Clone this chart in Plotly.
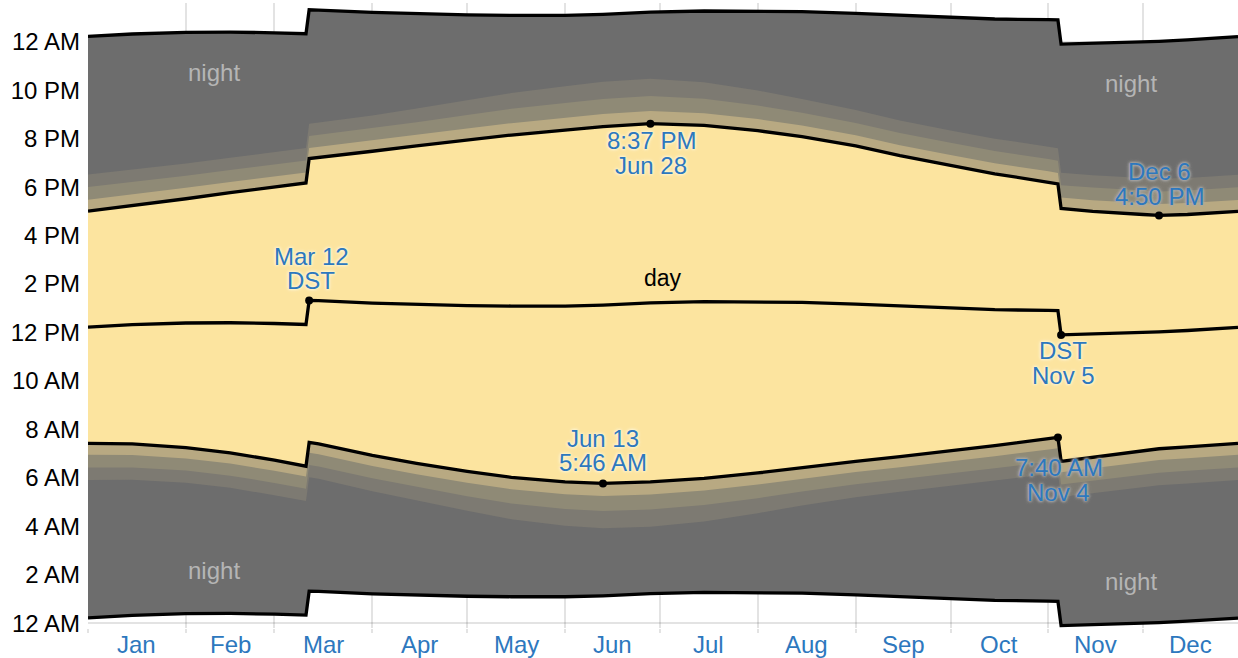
import plotly.graph_objects as go

# ---- data (local clock time, hours) ----
dates = ["2023-01-01", "2023-01-15", "2023-02-01", "2023-02-15", "2023-03-01",
         "2023-03-11", "2023-03-12", "2023-03-15", "2023-04-01", "2023-04-15",
         "2023-05-01", "2023-05-15", "2023-06-01", "2023-06-13", "2023-06-28",
         "2023-07-15", "2023-08-01", "2023-08-15", "2023-09-01", "2023-09-15",
         "2023-10-01", "2023-10-15", "2023-11-01", "2023-11-04", "2023-11-05",
         "2023-11-15", "2023-12-01", "2023-12-06", "2023-12-15", "2023-12-31"]

sunrise = [7.42, 7.40, 7.25, 7.03, 6.73, 6.48, 7.46, 7.40, 6.93, 6.60,
           6.27, 6.02, 5.83, 5.767, 5.83, 5.98, 6.20, 6.42, 6.68, 6.87,
           7.10, 7.33, 7.62, 7.667, 6.68, 6.85, 7.10, 7.20, 7.28, 7.42]
sunset = [17.01, 17.23, 17.52, 17.77, 18.00, 18.17, 19.18, 19.23, 19.48, 19.70,
          19.95, 20.15, 20.35, 20.50, 20.617, 20.55, 20.33, 20.08, 19.70, 19.30,
          18.90, 18.55, 18.20, 18.13, 17.12, 17.00, 16.87, 16.833, 16.87, 17.00]
solar_noon = [12.22, 12.32, 12.39, 12.40, 12.37, 12.33, 13.32, 13.31, 13.21, 13.15,
              13.11, 13.09, 13.09, 13.13, 13.22, 13.27, 13.27, 13.24, 13.17, 13.09,
              13.00, 12.94, 12.91, 12.90, 11.90, 11.93, 11.99, 12.02, 12.08, 12.21]
midnight_before = [0.22, 0.32, 0.39, 0.40, 0.37, 0.33, 1.32, 1.31, 1.21, 1.15,
                   1.11, 1.09, 1.09, 1.13, 1.22, 1.27, 1.27, 1.24, 1.17, 1.09,
                   1.00, 0.94, 0.91, 0.90, -0.10, -0.07, -0.01, 0.02, 0.08, 0.21]
midnight_after = [24.22, 24.32, 24.39, 24.40, 24.37, 24.33, 25.32, 25.31, 25.21, 25.15,
                  25.11, 25.09, 25.09, 25.13, 25.22, 25.27, 25.27, 25.24, 25.17, 25.09,
                  25.00, 24.94, 24.91, 24.90, 23.90, 23.93, 23.99, 24.02, 24.08, 24.21]

civil_dusk = [17.48, 17.69, 17.97, 18.21, 18.44, 18.60, 19.61, 19.66, 19.92, 20.15,
              20.42, 20.64, 20.86, 21.02, 21.14, 21.05, 20.81, 20.54, 20.14, 19.73,
              19.33, 18.99, 18.65, 18.58, 17.57, 17.46, 17.34, 17.30, 17.34, 17.47]
nautical_dusk = [18.00, 18.20, 18.47, 18.71, 18.94, 19.10, 20.11, 20.16, 20.43, 20.68,
                 20.98, 21.23, 21.47, 21.64, 21.76, 21.65, 21.37, 21.07, 20.65, 20.23,
                 19.83, 19.49, 19.16, 19.09, 18.08, 17.98, 17.86, 17.82, 17.86, 17.99]
astro_dusk = [18.52, 18.71, 18.97, 19.21, 19.45, 19.61, 20.62, 20.67, 20.96, 21.24,
              21.58, 21.88, 22.16, 22.35, 22.47, 22.33, 21.99, 21.64, 21.18, 20.75,
              20.34, 20.00, 19.67, 19.60, 18.59, 18.49, 18.38, 18.34, 18.38, 18.51]
civil_dawn = [6.95, 6.94, 6.80, 6.59, 6.29, 6.05, 7.03, 6.97, 6.49, 6.15,
              5.80, 5.53, 5.32, 5.25, 5.31, 5.48, 5.72, 5.96, 6.24, 6.44,
              6.67, 6.89, 7.17, 7.22, 6.23, 6.39, 6.63, 6.73, 6.81, 6.95]
nautical_dawn = [6.43, 6.43, 6.30, 6.09, 5.79, 5.55, 6.53, 6.47, 5.98, 5.62,
                 5.24, 4.94, 4.71, 4.63, 4.69, 4.88, 5.16, 5.43, 5.73, 5.94,
                 6.17, 6.39, 6.66, 6.71, 5.72, 5.87, 6.11, 6.21, 6.29, 6.43]
astro_dawn = [5.91, 5.92, 5.80, 5.59, 5.28, 5.04, 6.02, 5.96, 5.45, 5.06,
              4.64, 4.29, 4.02, 3.92, 3.98, 4.20, 4.54, 4.86, 5.20, 5.42,
              5.66, 5.88, 6.15, 6.20, 5.21, 5.36, 5.59, 5.69, 5.77, 5.91]

hour_ticks = [0, 2, 4, 6, 8, 10, 12, 14, 16, 18, 20, 22, 24]
hour_labels = ["12 AM", "2 AM", "4 AM", "6 AM", "8 AM", "10 AM", "12 PM",
               "2 PM", "4 PM", "6 PM", "8 PM", "10 PM", "12 AM"]
month_starts = ["2023-01-01", "2023-02-01", "2023-03-01", "2023-04-01",
                "2023-05-01", "2023-06-01", "2023-07-01", "2023-08-01",
                "2023-09-01", "2023-10-01", "2023-11-01", "2023-12-01"]
month_labels = ["Jan", "Feb", "Mar", "Apr", "May", "Jun",
                "Jul", "Aug", "Sep", "Oct", "Nov", "Dec"]
month_centers = ["2023-01-16 12:00", "2023-02-15", "2023-03-16 12:00",
                 "2023-04-16", "2023-05-16 12:00", "2023-06-16",
                 "2023-07-16 12:00", "2023-08-16 12:00", "2023-09-16",
                 "2023-10-16 12:00", "2023-11-16", "2023-12-16"]

# ---- styles ----
NIGHT = "#6d6d6d"
ASTRO = "#7d7a72"
NAUT = "#8f8a76"
CIVIL = "#b8a982"
DAY = "#fce49f"
GRID = "rgba(0,0,0,0.11)"
BLUE = "#2d78be"
FONT = "Liberation Sans, Arial, sans-serif"

fig = go.Figure()


def band(lo, hi, color):
    fig.add_trace(go.Scatter(x=dates, y=lo, mode="lines", line=dict(width=0),
                             hoverinfo="skip", showlegend=False))
    fig.add_trace(go.Scatter(x=dates, y=hi, mode="lines", line=dict(width=0),
                             fill="tonexty", fillcolor=color,
                             hoverinfo="skip", showlegend=False))


band(midnight_before, midnight_after, NIGHT)
band(sunset, astro_dusk, ASTRO)
band(sunset, nautical_dusk, NAUT)
band(sunset, civil_dusk, CIVIL)
band(astro_dawn, sunrise, ASTRO)
band(nautical_dawn, sunrise, NAUT)
band(civil_dawn, sunrise, CIVIL)
band(sunrise, sunset, DAY)

for s in [midnight_before, midnight_after, sunrise, sunset, solar_noon]:
    fig.add_trace(go.Scatter(x=dates, y=s, mode="lines",
                             line=dict(color="black", width=3.3),
                             hoverinfo="skip", showlegend=False))

# highlighted points
events = [("2023-03-12", solar_noon), ("2023-06-28", sunset), ("2023-06-13", sunrise),
          ("2023-12-06", sunset), ("2023-11-05", solar_noon), ("2023-11-04", sunrise)]
fig.add_trace(go.Scatter(x=[d for d, s in events],
                         y=[s[dates.index(d)] for d, s in events],
                         mode="markers", marker=dict(color="black", size=8),
                         hoverinfo="skip", showlegend=False))

annotations = []
YELLOW_HALO = "0 0 2px #fff4d2, 0 0 3px #fff4d2, 0 0 3px #fff4d2, 0 0 4px #fff4d2"
GRAY_HALO = "0 0 2px #acacac, 0 0 3px #acacac, 0 0 3px #acacac, 0 0 4px #acacac"


def label(d, series, lines, halo, xshift=0):
    y = series[dates.index(d)]
    for text, ys in lines:
        annotations.append(dict(x=d, y=y, text=text, showarrow=False,
                                xshift=xshift, yshift=ys, xanchor="center",
                                yanchor="middle",
                                font=dict(family=FONT, size=24, color=BLUE,
                                          shadow=halo)))


label("2023-03-12", solar_noon, [("Mar 12", 44), ("DST", 20)], YELLOW_HALO, 2)
label("2023-06-28", sunset, [("8:37 PM", -17), ("Jun 28", -42)], YELLOW_HALO, 1)
label("2023-06-13", sunrise, [("Jun 13", 45), ("5:46 AM", 21)], YELLOW_HALO)
label("2023-12-06", sunset, [("Dec 6", 44), ("4:50 PM", 19)], GRAY_HALO)
label("2023-11-05", solar_noon, [("DST", -16), ("Nov 5", -41)], YELLOW_HALO, 2)
label("2023-11-04", sunrise, [("7:40 AM", -30), ("Nov 4", -55)], GRAY_HALO, 1)

for x, y in [("2023-02-10", 22.72), ("2023-02-10", 2.16),
             ("2023-11-27", 22.27), ("2023-11-27", 1.74)]:
    annotations.append(dict(x=x, y=y, text="night", showarrow=False,
                            xanchor="center", yanchor="middle",
                            font=dict(family=FONT, size=24, color="#b5b5b5")))
annotations.append(dict(x="2023-07-02", y=14.25, text="day", showarrow=False,
                        xanchor="center", yanchor="middle",
                        font=dict(family=FONT, size=23, color="black")))

# month labels below the axis
for c, m in zip(month_centers, month_labels):
    annotations.append(dict(x=c, y=0, yref="paper", text=m, showarrow=False,
                            xanchor="center", yanchor="middle", yshift=-16,
                            font=dict(family=FONT, size=24, color=BLUE)))

fig.update_layout(
    width=1238, height=658,
    margin=dict(l=88, r=0, t=3, b=30, autoexpand=False),
    paper_bgcolor="white", plot_bgcolor="white",
    font=dict(family=FONT),
    annotations=annotations,
    xaxis=dict(type="date", range=["2023-01-01", "2023-12-31"],
               tickvals=month_starts, showticklabels=False,
               showgrid=True, gridcolor=GRID, gridwidth=1.5,
               zeroline=False, showline=False,
               ticks="outside", ticklen=4, tickcolor=GRID, tickwidth=1.5,
               layer="above traces", fixedrange=True, automargin=False),
    yaxis=dict(range=[-0.2, 25.6], tickvals=hour_ticks, ticktext=hour_labels,
               showgrid=True, gridcolor=GRID, gridwidth=1.5, zeroline=False,
               showline=False, ticks="",
               tickfont=dict(family=FONT, size=24, color="black"),
               ticklabelstandoff=7, automargin=False,
               layer="above traces", fixedrange=True),
)

fig.write_html("out.html", config={"displayModeBar": False},
               post_script="document.body.style.margin='0';"
                           "document.body.style.padding='0';"
                           "document.body.style.overflow='hidden';")
